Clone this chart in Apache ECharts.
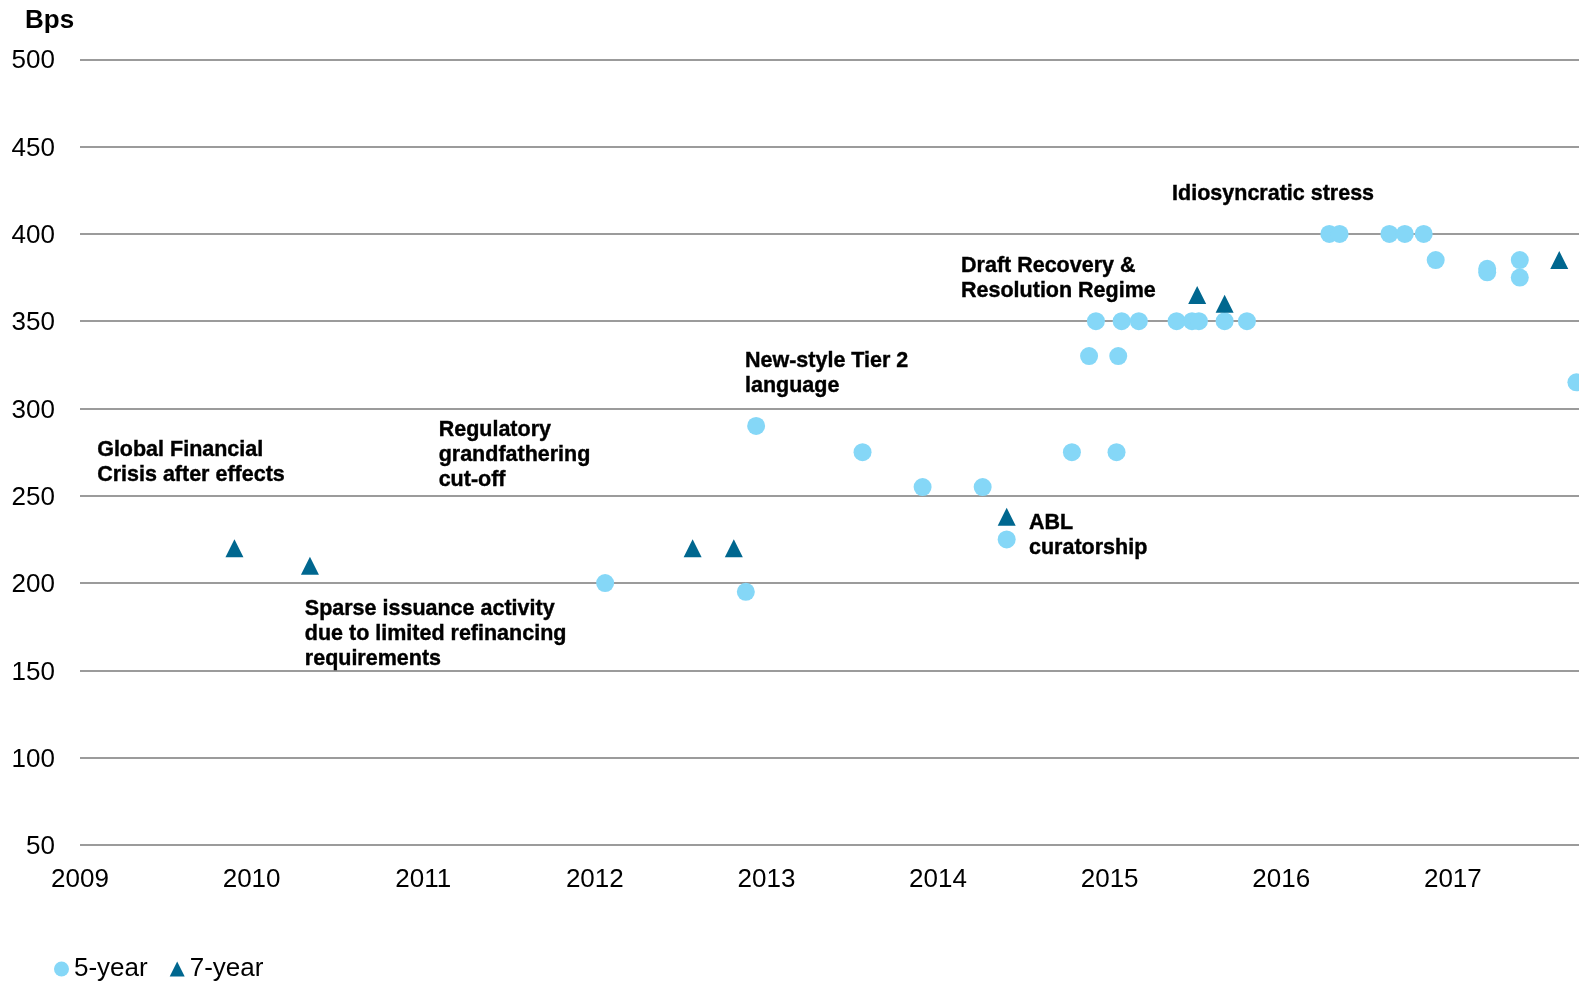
<!DOCTYPE html>
<html>
<head>
<meta charset="utf-8">
<script src="https://cdn.jsdelivr.net/npm/echarts@6/dist/echarts.min.js"></script>
<style>
html, body { margin: 0; padding: 0; background: #fff; }
#chart-1 { width: 1579px; height: 983px; }
</style>
</head>
<body>
<div id="chart-1"></div>
<script>
// 5-year issues: date (fractional year) and spread in bps
var fiveYearDates = [2012.06, 2012.88, 2012.94, 2013.56, 2013.91, 2014.26, 2014.40, 2014.78, 2014.88, 2014.92,
    2015.04, 2015.05, 2015.07, 2015.17, 2015.39, 2015.48, 2015.52, 2015.67, 2015.80,
    2016.28, 2016.34, 2016.63, 2016.72, 2016.83, 2016.90, 2017.20, 2017.20, 2017.39, 2017.39, 2017.72];
var fiveYearBps = [200, 195, 290, 275, 255, 255, 225, 275, 330, 350,
    275, 330, 350, 350, 350, 350, 350, 350, 350,
    400, 400, 400, 400, 400, 385, 380, 378, 385, 375, 315];

// 7-year issues
var sevenYearDates = [2009.90, 2010.34, 2012.57, 2012.81, 2014.40, 2015.51, 2015.67, 2017.62];
var sevenYearBps = [220, 210, 220, 220, 238, 365, 360, 385];

// annotations: top-left corner of each text block, in axis units
var noteDates = [2009.10, 2011.09, 2010.31, 2012.875, 2014.53, 2014.134, 2015.364];
var noteBps = [284.3, 296.1, 193.6, 335.2, 242.4, 389.6, 431];
var noteTexts = [
    'Global Financial\nCrisis after effects',
    'Regulatory\ngrandfathering\ncut-off',
    'Sparse issuance activity\ndue to limited refinancing\nrequirements',
    'New-style Tier 2\nlanguage',
    'ABL\ncuratorship',
    'Draft Recovery &\nResolution Regime',
    'Idiosyncratic stress'
];

var xMin = 2009, xMax = 2017.735;
var yMin = 50, yMax = 500, yStep = 50;

var font = 'Liberation Sans, Arial, sans-serif';
var color = ['#85d7f7', '#00678f'];

function zip(xs, ys) {
    var res = [];
    for (var i = 0; i < xs.length; i++) {
        res.push([xs[i], ys[i]]);
    }
    return res;
}

var notes = [];
for (var i = 0; i < noteTexts.length; i++) {
    notes.push({ value: [noteDates[i], noteBps[i]], name: noteTexts[i] });
}

var dom = document.getElementById('chart-1');
var myChart = echarts.init(dom);

var option = {
    backgroundColor: '#fff',
    animation: false,
    grid: { left: 80, right: 0, top: 59.3, bottom: 138 },
    graphic: [{
        type: 'text',
        left: 25,
        top: 8,
        style: { text: 'Bps', font: 'bold 26px ' + font, fill: '#000' }
    }],
    legend: {
        left: 54,
        top: 956,
        padding: 0,
        itemWidth: 15,
        itemHeight: 15,
        itemGap: 22,
        data: [
            { name: '5-year', icon: 'circle' },
            { name: '7-year', icon: 'triangle' }
        ],
        textStyle: { fontFamily: font, fontSize: 26, color: '#000' }
    },
    xAxis: {
        type: 'value',
        min: xMin,
        max: xMax,
        interval: 1,
        axisLine: { show: false },
        axisTick: { show: false },
        splitLine: { show: false },
        axisLabel: {
            showMinLabel: true,
            showMaxLabel: false,
            margin: 22,
            fontFamily: font,
            fontSize: 26,
            color: '#000',
            formatter: function (v) {
                return Math.abs(v - Math.round(v)) < 1e-6 ? String(Math.round(v)) : '';
            }
        }
    },
    yAxis: {
        type: 'value',
        min: yMin,
        max: yMax,
        interval: yStep,
        axisLine: { show: false },
        axisTick: { show: false },
        splitLine: { show: true, lineStyle: { color: '#7a7a7a', width: 1.6 } },
        axisLabel: {
            margin: 25,
            formatter: '{t|{value}}',
            rich: {
                t: {
                    fontFamily: font,
                    fontSize: 26,
                    color: '#000',
                    padding: [4, 0, 0, 0]
                }
            }
        }
    },
    series: [
        {
            name: '5-year',
            type: 'scatter',
            symbol: 'circle',
            symbolSize: 18,
            itemStyle: { color: color[0], opacity: 1 },
            data: zip(fiveYearDates, fiveYearBps)
        },
        {
            name: '7-year',
            type: 'scatter',
            symbol: 'triangle',
            symbolSize: 18,
            itemStyle: { color: color[1], opacity: 1 },
            data: zip(sevenYearDates, sevenYearBps)
        },
        {
            name: 'notes',
            type: 'scatter',
            symbolSize: 0,
            silent: true,
            itemStyle: { color: '#000' },
            label: {
                show: true,
                position: [0, 0],
                offset: [0, 2],
                align: 'left',
                verticalAlign: 'top',
                fontFamily: font,
                fontSize: 21.5,
                fontWeight: 'bold',
                lineHeight: 25,
                color: '#000',
                opacity: 1,
                textBorderColor: '#000',
                textBorderWidth: 0.4,
                formatter: function (p) { return p.name; }
            },
            data: notes
        }
    ]
};

myChart.setOption(option, true);
</script>
</body>
</html>
